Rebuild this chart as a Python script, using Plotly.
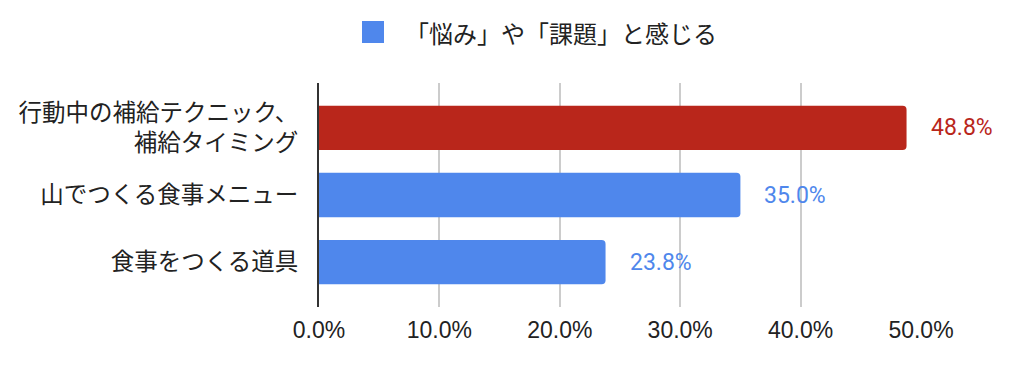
import plotly.graph_objects as go

categories = ["行動中の補給テクニック、<br>補給タイミング", "山でつくる食事メニュー", "食事をつくる道具"]
values = [48.8, 35.0, 23.8]
bar_colors = ["#B9261B", "#4F87EC", "#4F87EC"]
series_name = "「悩み」や「課題」と感じる"
x_ticks = [0, 10, 20, 30, 40, 50]
x_tick_labels = ["0.0%", "10.0%", "20.0%", "30.0%", "40.0%", "50.0%"]

L, R, T, B = 319, 107, 83, 65
PW, PH = 1028 - L - R, 372 - T - B

def px_x(p):
    return (p - L) / PW

def px_y(p):
    return (372 - B - p) / PH

fig = go.Figure()
fig.add_trace(go.Bar(
    y=categories, x=values, orientation="h",
    marker=dict(color=bar_colors, cornerradius=4, line=dict(width=0)),
    name=series_name, showlegend=False, hoverinfo="x+y",
))

for c, v, col in zip(categories, values, bar_colors):
    fig.add_annotation(x=v, y=c, xref="x", yref="y", text=f"{v:.1f}%",
                       showarrow=False, xanchor="left", xshift=22,
                       font=dict(family="Roboto", size=23, color=col))

# legend (manual)
fig.add_shape(type="rect", xref="paper", yref="paper",
              x0=px_x(362), x1=px_x(384), y0=px_y(43), y1=px_y(21),
              fillcolor="#4F87EC", line=dict(width=0), layer="above")
fig.add_annotation(xref="paper", yref="paper", x=px_x(403), y=px_y(32),
                   text=series_name, showarrow=False, xanchor="left", yanchor="middle",
                   font=dict(family="Noto Sans CJK JP", size=24, color="#222222"))

fig.update_layout(
    width=1028, height=372,
    margin=dict(l=L, r=R, t=T, b=B, autoexpand=False),
    paper_bgcolor="white", plot_bgcolor="white",
    bargap=0.34,
    font=dict(family="Noto Sans CJK JP", color="#222222"),
    xaxis=dict(range=[0, 50], tickvals=x_ticks, ticktext=x_tick_labels,
               showgrid=True, gridcolor="#CCCCCC", gridwidth=1.5,
               zeroline=False, showline=False, ticks="", ticklabelstandoff=7,
               tickfont=dict(family="Liberation Sans", size=23, color="#222222")),
    yaxis=dict(type="category", categoryorder="array", categoryarray=categories,
               range=[len(categories) - 1 + 0.67, -0.67],
               showline=True, linecolor="#333333", linewidth=2, ticks="",
               showgrid=False, zeroline=False, ticklabelstandoff=14,
               tickfont=dict(family="Noto Sans CJK JP", size=23.5, color="#222222")),
)
fig.write_html("out.html", config={"displayModeBar": False},
               post_script="document.body.style.margin='0px';document.body.style.overflow='hidden';")
